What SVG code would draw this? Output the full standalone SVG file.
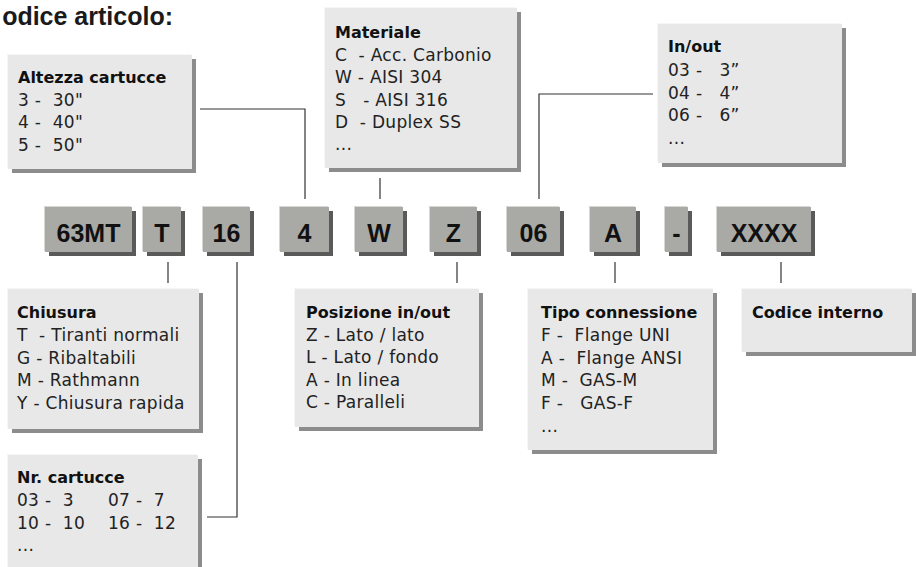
<svg xmlns="http://www.w3.org/2000/svg" width="916" height="567" viewBox="0 0 916 567">
<style>
  .bg { fill: #ffffff; }
  .title { font-family: "Liberation Sans", Arial, sans-serif; font-weight: bold; font-size: 25px; fill: #1a1a1a; }
  .cshadow { fill: #5a5a5a; }
  .chl { fill: #d6d6d4; }
  .cfill { fill: #a9a9a5; }
  .ctext { font-family: "Liberation Sans", Arial, sans-serif; font-weight: bold; font-size: 25px; fill: #111111; text-anchor: middle; }
  .ishadow { fill: #8c8c8c; }
  .ihl { fill: #f6f6f6; }
  .ifill { fill: #e8e8e8; }
  .ihead { font-family: "DejaVu Sans", "Liberation Sans", sans-serif; font-weight: bold; font-size: 16px; fill: #111111; }
  .ibody { font-family: "DejaVu Sans", "Liberation Sans", sans-serif; font-size: 17px; letter-spacing: 0.3px; fill: #222222; white-space: pre; }
  .conn { fill: none; stroke: #333333; stroke-width: 1.2; }
</style>
<rect class="bg" x="0" y="0" width="916" height="567"/>
<text class="title" x="173" y="25" text-anchor="end">odice articolo:</text>

<g id="connectors">
  <polyline class="conn" points="200,109 305,109 305,199"/>
  <line class="conn" x1="380" y1="178" x2="380" y2="199"/>
  <polyline class="conn" points="653,94 539,94 539,199"/>
  <line class="conn" x1="168" y1="262" x2="168" y2="283"/>
  <polyline class="conn" points="237,262 237,517 207,517"/>
  <line class="conn" x1="457" y1="262" x2="457" y2="283"/>
  <line class="conn" x1="615" y1="262" x2="615" y2="283"/>
  <line class="conn" x1="781" y1="262" x2="781" y2="283"/>
</g>

<g id="code-63MT">
  <rect class="cshadow" x="49" y="211" width="87" height="45"/>
  <rect class="chl" x="44" y="206" width="87" height="45"/>
  <rect class="cfill" x="45" y="207" width="87" height="45"/>
  <text class="ctext" x="88.5" y="242">63MT</text>
</g>
<g id="code-T">
  <rect class="cshadow" x="147" y="211" width="38" height="45"/>
  <rect class="chl" x="142" y="206" width="38" height="45"/>
  <rect class="cfill" x="143" y="207" width="38" height="45"/>
  <text class="ctext" x="162" y="242">T</text>
</g>
<g id="code-16">
  <rect class="cshadow" x="207" y="211" width="47" height="45"/>
  <rect class="chl" x="202" y="206" width="47" height="45"/>
  <rect class="cfill" x="203" y="207" width="47" height="45"/>
  <text class="ctext" x="226.5" y="242">16</text>
</g>
<g id="code-4">
  <rect class="cshadow" x="284" y="211" width="49" height="45"/>
  <rect class="chl" x="279" y="206" width="49" height="45"/>
  <rect class="cfill" x="280" y="207" width="49" height="45"/>
  <text class="ctext" x="304.5" y="242">4</text>
</g>
<g id="code-W">
  <rect class="cshadow" x="359" y="211" width="48" height="45"/>
  <rect class="chl" x="354" y="206" width="48" height="45"/>
  <rect class="cfill" x="355" y="207" width="48" height="45"/>
  <text class="ctext" x="379" y="242">W</text>
</g>
<g id="code-Z">
  <rect class="cshadow" x="434" y="211" width="47" height="45"/>
  <rect class="chl" x="429" y="206" width="47" height="45"/>
  <rect class="cfill" x="430" y="207" width="47" height="45"/>
  <text class="ctext" x="453.5" y="242">Z</text>
</g>
<g id="code-06">
  <rect class="cshadow" x="511" y="211" width="53" height="45"/>
  <rect class="chl" x="506" y="206" width="53" height="45"/>
  <rect class="cfill" x="507" y="207" width="53" height="45"/>
  <text class="ctext" x="533.5" y="242">06</text>
</g>
<g id="code-A">
  <rect class="cshadow" x="594" y="211" width="46" height="45"/>
  <rect class="chl" x="589" y="206" width="46" height="45"/>
  <rect class="cfill" x="590" y="207" width="46" height="45"/>
  <text class="ctext" x="613" y="242">A</text>
</g>
<g id="code-dash">
  <rect class="cshadow" x="669" y="211" width="23" height="45"/>
  <rect class="chl" x="664" y="206" width="23" height="45"/>
  <rect class="cfill" x="665" y="207" width="23" height="45"/>
  <text class="ctext" x="676.5" y="242">-</text>
</g>
<g id="code-XXXX">
  <rect class="cshadow" x="721" y="211" width="94" height="45"/>
  <rect class="chl" x="716" y="206" width="94" height="45"/>
  <rect class="cfill" x="717" y="207" width="94" height="45"/>
  <text class="ctext" x="764" y="242">XXXX</text>
</g>

<g id="info-altezza">
  <rect class="ishadow" x="12" y="59" width="184" height="114"/>
  <rect class="ihl" x="7" y="54" width="184" height="114"/>
  <rect class="ifill" x="8" y="55" width="184" height="114"/>
  <text class="ihead" x="18" y="83">Altezza cartucce</text>
  <text class="ibody" x="18" y="106" xml:space="preserve">3 -  30"</text>
  <text class="ibody" x="18" y="128" xml:space="preserve">4 -  40"</text>
  <text class="ibody" x="18" y="151" xml:space="preserve">5 -  50"</text>
</g>

<g id="info-materiale">
  <rect class="ishadow" x="329" y="12" width="192" height="160"/>
  <rect class="ihl" x="324" y="7" width="192" height="160"/>
  <rect class="ifill" x="325" y="8" width="192" height="160"/>
  <text class="ihead" x="335" y="38">Materiale</text>
  <text class="ibody" x="335" y="61" xml:space="preserve">C  - Acc. Carbonio</text>
  <text class="ibody" x="335" y="83" xml:space="preserve">W - AISI 304</text>
  <text class="ibody" x="335" y="106" xml:space="preserve">S   - AISI 316</text>
  <text class="ibody" x="335" y="128" xml:space="preserve">D  - Duplex SS</text>
  <text class="ibody" x="335" y="150">...</text>
</g>

<g id="info-inout">
  <rect class="ishadow" x="662" y="28" width="184" height="139"/>
  <rect class="ihl" x="657" y="23" width="184" height="139"/>
  <rect class="ifill" x="658" y="24" width="184" height="139"/>
  <text class="ihead" x="668" y="52">In/out</text>
  <text class="ibody" x="668" y="76" xml:space="preserve">03 -   3”</text>
  <text class="ibody" x="668" y="99" xml:space="preserve">04 -   4”</text>
  <text class="ibody" x="668" y="121" xml:space="preserve">06 -   6”</text>
  <text class="ibody" x="668" y="144">...</text>
</g>

<g id="info-chiusura">
  <rect class="ishadow" x="12" y="293" width="191" height="140"/>
  <rect class="ihl" x="7" y="288" width="191" height="140"/>
  <rect class="ifill" x="8" y="289" width="191" height="140"/>
  <text class="ihead" x="17" y="318">Chiusura</text>
  <text class="ibody" x="17" y="341" xml:space="preserve">T  - Tiranti normali</text>
  <text class="ibody" x="17" y="364">G - Ribaltabili</text>
  <text class="ibody" x="17" y="386">M - Rathmann</text>
  <text class="ibody" x="17" y="409">Y - Chiusura rapida</text>
</g>

<g id="info-nrcartucce">
  <rect class="ishadow" x="12" y="459" width="190" height="120"/>
  <rect class="ihl" x="7" y="454" width="190" height="120"/>
  <rect class="ifill" x="8" y="455" width="190" height="120"/>
  <text class="ihead" x="17" y="483">Nr. cartucce</text>
  <text class="ibody" x="17" y="506" xml:space="preserve">03 -  3</text>
  <text class="ibody" x="108" y="506" xml:space="preserve">07 -  7</text>
  <text class="ibody" x="17" y="529" xml:space="preserve">10 -  10</text>
  <text class="ibody" x="108" y="529" xml:space="preserve">16 -  12</text>
  <text class="ibody" x="17" y="551">...</text>
</g>

<g id="info-posizione">
  <rect class="ishadow" x="299" y="293" width="184" height="138"/>
  <rect class="ihl" x="294" y="288" width="184" height="138"/>
  <rect class="ifill" x="295" y="289" width="184" height="138"/>
  <text class="ihead" x="306" y="318">Posizione in/out</text>
  <text class="ibody" x="306" y="341">Z - Lato / lato</text>
  <text class="ibody" x="306" y="363">L - Lato / fondo</text>
  <text class="ibody" x="306" y="386">A - In linea</text>
  <text class="ibody" x="306" y="408">C - Paralleli</text>
</g>

<g id="info-tipo">
  <rect class="ishadow" x="532" y="293" width="185" height="161"/>
  <rect class="ihl" x="527" y="288" width="185" height="161"/>
  <rect class="ifill" x="528" y="289" width="185" height="161"/>
  <text class="ihead" x="541" y="318">Tipo connessione</text>
  <text class="ibody" x="541" y="341" xml:space="preserve">F -  Flange UNI</text>
  <text class="ibody" x="541" y="364" xml:space="preserve">A -  Flange ANSI</text>
  <text class="ibody" x="541" y="386" xml:space="preserve">M -  GAS-M</text>
  <text class="ibody" x="541" y="409" xml:space="preserve">F -   GAS-F</text>
  <text class="ibody" x="541" y="432">...</text>
</g>

<g id="info-codice">
  <rect class="ishadow" x="746" y="293" width="170" height="63"/>
  <rect class="ihl" x="741" y="288" width="170" height="63"/>
  <rect class="ifill" x="742" y="289" width="170" height="63"/>
  <text class="ihead" x="752" y="318">Codice interno</text>
</g>
</svg>
